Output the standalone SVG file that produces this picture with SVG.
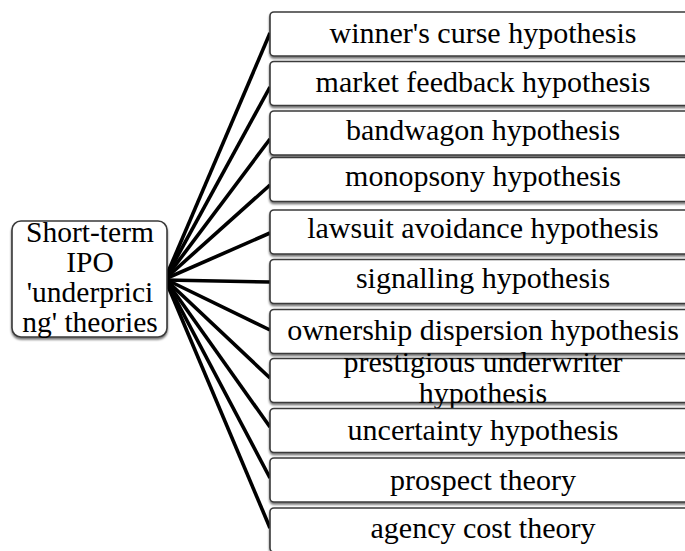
<svg xmlns="http://www.w3.org/2000/svg" width="685" height="551" viewBox="0 0 685 551">
<defs>
<filter id="sh" x="-5%" y="-10%" width="110%" height="130%">
<feDropShadow dx="0" dy="2" stdDeviation="1.2" flood-color="#000" flood-opacity="0.55"/>
</filter>
<style>
.box{fill:#fff;stroke:#3a3a3a;stroke-width:1.6;filter:url(#sh)}
.t{font-family:"Liberation Serif","Times New Roman",serif;font-size:30px;fill:#000;text-anchor:middle}
.r{font-size:29.5px}
.c{stroke:#000;stroke-width:3.6;fill:none;stroke-linecap:butt}
</style>
</defs>
<rect width="685" height="551" fill="#fff"/>
<g id="connectors">
<line class="c" x1="165" y1="279" x2="270" y2="33"/>
<line class="c" x1="165" y1="279" x2="270" y2="87"/>
<line class="c" x1="165" y1="279" x2="270" y2="139"/>
<line class="c" x1="165" y1="279" x2="270" y2="185"/>
<line class="c" x1="165" y1="279" x2="270" y2="233"/>
<line class="c" x1="165" y1="280" x2="270" y2="282" stroke-width="4.5"/>
<line class="c" x1="165" y1="279" x2="270" y2="330"/>
<line class="c" x1="165" y1="279" x2="270" y2="378"/>
<line class="c" x1="165" y1="279" x2="270" y2="427"/>
<line class="c" x1="165" y1="279" x2="270" y2="478"/>
<line class="c" x1="165" y1="279" x2="270" y2="528"/>
</g>
<g id="root">
<rect class="box" x="12" y="221" width="155" height="116" rx="9"/>
<text class="t r" x="90" y="242">Short-term</text>
<text class="t r" x="90" y="272">IPO</text>
<text class="t r" x="90" y="302">'underprici</text>
<text class="t r" x="90" y="332">ng' theories</text>
</g>
<g id="n1"><rect class="box" x="270" y="12" width="430" height="44" rx="4"/><text class="t" x="483" y="43">winner's curse hypothesis</text></g>
<g id="n2"><rect class="box" x="270" y="61.5" width="430" height="44" rx="4"/><text class="t" x="483" y="92">market feedback hypothesis</text></g>
<g id="n3"><rect class="box" x="270" y="111" width="430" height="44" rx="4"/><text class="t" x="483" y="140">bandwagon hypothesis</text></g>
<g id="n4"><rect class="box" x="270" y="157.5" width="430" height="44" rx="4"/><text class="t" x="483" y="186">monopsony hypothesis</text></g>
<g id="n5"><rect class="box" x="270" y="210" width="430" height="44" rx="4"/><text class="t" x="483" y="238">lawsuit avoidance hypothesis</text></g>
<g id="n6"><rect class="box" x="270" y="259.5" width="430" height="44" rx="4"/><text class="t" x="483" y="288">signalling hypothesis</text></g>
<g id="n7"><rect class="box" x="270" y="309.5" width="430" height="44" rx="4"/><text class="t" x="483" y="340">ownership dispersion hypothesis</text></g>
<g id="n8"><rect class="box" x="270" y="358.5" width="430" height="44" rx="4"/><text class="t" x="483" y="372">prestigious underwriter</text><text class="t" x="483" y="403">hypothesis</text></g>
<g id="n9"><rect class="box" x="270" y="408.5" width="430" height="44" rx="4"/><text class="t" x="483" y="440">uncertainty hypothesis</text></g>
<g id="n10"><rect class="box" x="270" y="458" width="430" height="44" rx="4"/><text class="t" x="483" y="490">prospect theory</text></g>
<g id="n11"><rect class="box" x="270" y="508" width="430" height="44" rx="4"/><text class="t" x="483" y="538">agency cost theory</text></g>
</svg>
